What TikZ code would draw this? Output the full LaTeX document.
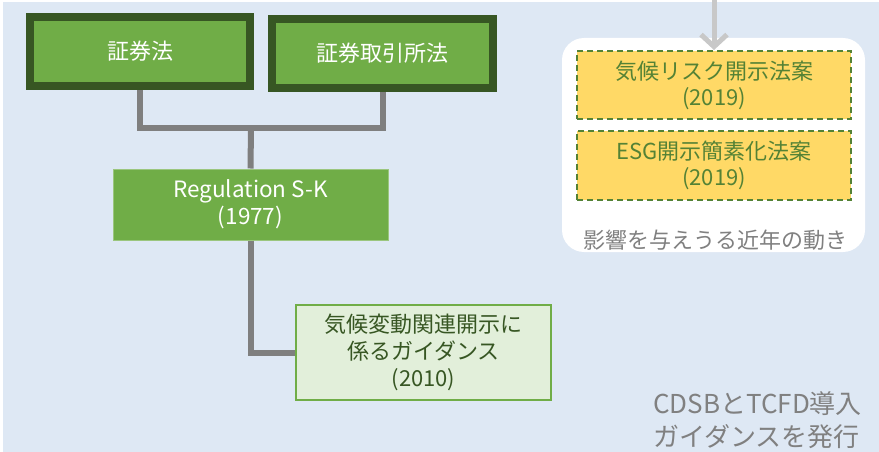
\documentclass[tikz,border=0pt]{standalone}
\usepackage{fontspec}
\setmainfont{Noto Sans CJK JP}
\usetikzlibrary{arrows.meta}
\definecolor{bgblue}{HTML}{DEE8F4}
\definecolor{grn}{HTML}{70AD47}
\definecolor{dkgrn}{HTML}{375623}
\definecolor{midgrn}{HTML}{548235}
\definecolor{ltgrn}{HTML}{E2EFDA}
\definecolor{conngray}{HTML}{7F7F7F}
\definecolor{arrgray}{HTML}{C8C8C8}
\definecolor{yel}{HTML}{FFD966}
\definecolor{txtgray}{HTML}{808080}
\tikzset{
  lawbox/.style={draw=dkgrn, line width=8pt, fill=grn, text=white, minimum width=220pt, minimum height=69pt, inner sep=0pt, font=\fontsize{22}{28}\selectfont},
  regbox/.style={draw=grn!70!white, line width=1pt, fill=grn, text=white, align=center, minimum width=275pt, minimum height=71pt, inner sep=0pt, font=\fontsize{22.5}{27}\selectfont},
  guidbox/.style={draw=grn, line width=2pt, fill=ltgrn, text=dkgrn, align=center, minimum width=255pt, minimum height=95pt, inner sep=0pt, font=\fontsize{22}{27}\selectfont},
  yelbox/.style={draw=midgrn, line width=2pt, dash pattern=on 6pt off 4pt, fill=yel, text=midgrn, align=center, minimum width=274pt, minimum height=68pt, inner sep=0pt, font=\fontsize{22}{26}\selectfont},
  conn/.style={draw=conngray, line width=6pt, line join=miter},
  grayarrow/.style={draw=arrgray, line width=5pt, -{Straight Barb[length=12pt, width=26pt, line width=5pt]}},
}
\begin{document}
\begin{tikzpicture}[x=1pt,y=-1pt]
\useasboundingbox (0,0) rectangle (879,452);
\fill[white] (0,0) rectangle (879,452);
\fill[bgblue] (3,2) rectangle (879,452);

% white rounded panel
\fill[white, rounded corners=22pt] (562,38) rectangle (865,252);

\node[lawbox] (a) at (140,51.5) {証券法};
\node[lawbox, minimum width=221pt] (b) at (382.5,53.5) {証券取引所法};
\coordinate (j) at (251,128);
\draw[conn] (a.south) |- (b.south |- j) -- (b.south);
\node[regbox] (reg) at (250.5,204.5) {Regulation S-K\\(1977)};
\draw[conn] (j) -- (reg.north);
\node[guidbox] (guid) at (423.5,352.5) {気候変動関連開示に\\係るガイダンス\\(2010)};
\draw[conn] (reg.south) |- (guid.west);

\node[yelbox] (y1) at (714,85) {気候リスク開示法案\\(2019)};
\node[yelbox, minimum height=69pt] (y2) at (714,165.5) {ESG開示簡素化法案\\(2019)};
\node[text=txtgray, font=\fontsize{22}{26}\selectfont, inner sep=0pt] (lbl) at (715,240) {影響を与えうる近年の動き};

\coordinate (top) at (714,0);
\draw[grayarrow] (top) -- (y1.north);

\node[text=txtgray, font=\fontsize{26}{33}\selectfont, align=left, anchor=west, inner sep=0pt] (cdsb) at (653,420) {CDSBとTCFD導入\\ガイダンスを発行};
\end{tikzpicture}
\end{document}
